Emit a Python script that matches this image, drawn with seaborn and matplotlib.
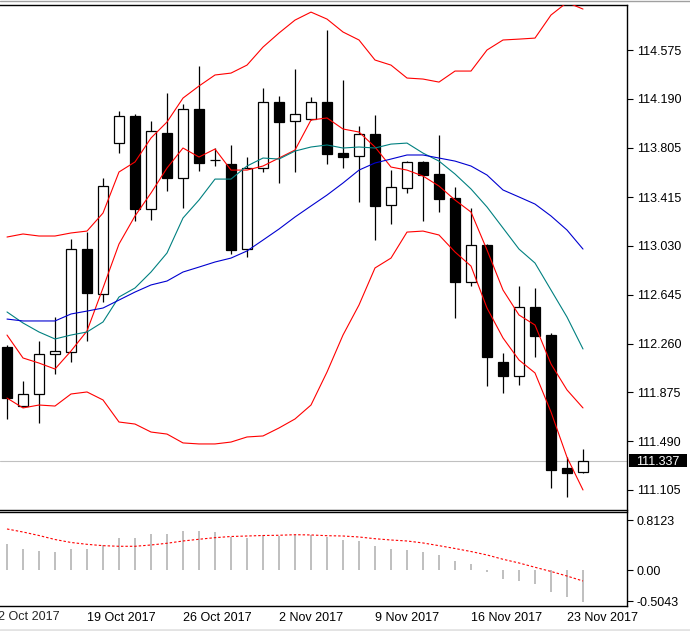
import matplotlib
matplotlib.use("Agg")
import matplotlib.pyplot as plt
import matplotlib.transforms as mtransforms
from matplotlib.patches import Rectangle
from matplotlib.lines import Line2D
import numpy as np
import pandas as pd
import seaborn as sns

# daily candles, oldest first (Oct 11 .. Nov 24 2017)
opens = [112.235, 111.765, 111.860, 112.175, 112.191, 113.003, 112.648, 113.839, 114.052, 113.323,
         113.920, 113.568, 114.109, 113.708, 113.676, 113.003, 113.642, 114.162, 114.012, 114.028,
         114.162, 113.762, 113.736, 113.912, 113.350, 113.484, 113.692, 113.597, 113.408, 112.748,
         113.035, 112.114, 112.006, 112.546, 112.327, 111.278, 111.244]
highs = [112.248, 111.964, 112.280, 112.469, 113.084, 113.142, 113.563, 114.094, 114.068, 114.015,
         114.236, 114.151, 114.449, 113.800, 113.826, 113.731, 114.275, 114.210, 114.425, 114.202,
         114.732, 114.338, 113.975, 114.062, 113.628, 113.699, 113.702, 113.904, 113.492, 113.329,
         113.045, 112.183, 112.716, 112.696, 112.343, 111.363, 111.428]
lows = [111.667, 111.760, 111.636, 112.022, 112.117, 112.282, 112.590, 113.765, 113.229, 113.236,
        113.465, 113.331, 113.623, 113.662, 112.966, 112.945, 113.615, 113.528, 113.615, 114.025,
        113.678, 113.647, 113.378, 113.079, 113.205, 113.449, 113.229, 113.300, 112.464, 112.716,
        111.927, 111.872, 111.935, 112.156, 111.123, 111.052, 111.240]
closes = [111.833, 111.860, 112.175, 112.199, 113.003, 112.661, 113.502, 114.052, 113.323, 113.934,
          113.568, 114.109, 113.686, 113.706, 113.000, 113.642, 114.162, 114.009, 114.068, 114.162,
          113.757, 113.733, 113.910, 113.347, 113.492, 113.689, 113.591, 113.402, 112.748, 113.035,
          112.156, 112.006, 112.546, 112.322, 111.265, 111.241, 111.337]

# indicators
bb_upper = [113.100, 113.124, 113.108, 113.108, 113.132, 113.147, 113.289, 113.613, 113.692, 113.881,
            114.007, 114.196, 114.291, 114.378, 114.393, 114.456, 114.598, 114.709, 114.811, 114.874,
            114.819, 114.717, 114.654, 114.496, 114.456, 114.354, 114.346, 114.322, 114.409, 114.409,
            114.575, 114.654, 114.661, 114.669, 114.851, 114.950, 114.898]
bb_lower = [111.830, 111.752, 111.775, 111.767, 111.862, 111.878, 111.815, 111.641, 111.625, 111.562,
            111.546, 111.476, 111.468, 111.468, 111.483, 111.523, 111.531, 111.594, 111.665, 111.775,
            112.035, 112.327, 112.564, 112.856, 112.934, 113.139, 113.147, 113.116, 112.982, 112.871,
            112.540, 112.304, 112.130, 112.028, 111.720, 111.363, 111.105]
ma_slow = [112.453, 112.438, 112.438, 112.438, 112.493, 112.516, 112.540, 112.603, 112.666, 112.722,
           112.753, 112.824, 112.863, 112.903, 112.934, 112.990, 113.076, 113.163, 113.258, 113.345,
           113.431, 113.526, 113.628, 113.684, 113.715, 113.747, 113.747, 113.723, 113.699, 113.660,
           113.589, 113.471, 113.416, 113.360, 113.266, 113.155, 113.005]
ma_mid = [112.509, 112.422, 112.351, 112.296, 112.327, 112.351, 112.430, 112.627, 112.698, 112.824,
          112.974, 113.250, 113.392, 113.557, 113.557, 113.660, 113.723, 113.715, 113.778, 113.810,
          113.826, 113.802, 113.810, 113.802, 113.833, 113.841, 113.762, 113.699, 113.597, 113.479,
          113.337, 113.171, 113.005, 112.895, 112.682, 112.469, 112.217]
ma_fast = [112.327, 112.146, 112.106, 112.059, 112.201, 112.359, 112.698, 113.045, 113.266, 113.447,
           113.644, 113.802, 113.731, 113.794, 113.628, 113.628, 113.660, 113.723, 113.786, 114.023,
           114.039, 113.952, 113.928, 113.810, 113.652, 113.628, 113.581, 113.502, 113.392, 113.297,
           112.998, 112.682, 112.485, 112.406, 112.099, 111.894, 111.752]

osc_hist = [0.427, 0.351, 0.318, 0.297, 0.351, 0.351, 0.406, 0.525, 0.525, 0.590,
            0.590, 0.643, 0.643, 0.622, 0.546, 0.525, 0.569, 0.557, 0.578, 0.569,
            0.546, 0.492, 0.481, 0.395, 0.351, 0.330, 0.297, 0.253, 0.156, 0.102,
            -0.028, -0.136, -0.169, -0.223, -0.353, -0.439, -0.515]
osc_signal = [0.671, 0.622, 0.565, 0.500, 0.452, 0.422, 0.400, 0.390, 0.390, 0.411,
              0.439, 0.476, 0.504, 0.530, 0.549, 0.557, 0.565, 0.569, 0.578, 0.574,
              0.562, 0.557, 0.541, 0.513, 0.492, 0.476, 0.444, 0.400, 0.354, 0.305,
              0.249, 0.179, 0.119, 0.049, -0.019, -0.093, -0.174]

price_ticks = [111.105, 111.490, 111.875, 112.260, 112.645, 113.030, 113.415, 113.805, 114.190, 114.575]
osc_ticks = [-0.5043, 0.0, 0.8123]
osc_tick_labels = ["-0.5043", "0.00", "0.8123"]
date_pos = [-1, 5, 11, 17, 23, 29, 35]
date_labels = ["12 Oct 2017", "19 Oct 2017", "26 Oct 2017", "2 Nov 2017",
               "9 Nov 2017", "16 Nov 2017", "23 Nov 2017"]
last_price = 111.337

df = pd.DataFrame({"open": opens, "high": highs, "low": lows, "close": closes,
                   "upper": bb_upper, "lower": bb_lower, "slow": ma_slow,
                   "mid": ma_mid, "fast": ma_fast, "hist": osc_hist, "signal": osc_signal})
df["i"] = np.arange(len(df))

sns.set_style("white")
plt.rcParams["font.family"] = ["Liberation Sans", "DejaVu Sans"]
plt.rcParams["font.size"] = 9

W, H = 690, 631
fig = plt.figure(figsize=(W / 100, H / 100), dpi=100)
fig.patch.set_facecolor("white")


def box(l, t, r, b):
    return [l / W, 1 - b / H, (r - l) / W, (b - t) / H]


ax = fig.add_axes(box(0, 5, 627, 509.5))
ax2 = fig.add_axes(box(0, 511.5, 627, 606))

# candles
up = df["close"] >= df["open"]
bottoms = np.minimum(df["open"], df["close"])
heights = (df["close"] - df["open"]).abs()
ax.vlines(df["i"], df["low"], df["high"], color="black", lw=0.9, zorder=2)
ax.bar(df["i"], heights, bottom=bottoms, width=0.62,
       color=np.where(up, "white", "black"), edgecolor="black", linewidth=0.9, zorder=3)

ax.axhline(last_price, color="#c0c0c0", lw=0.8, zorder=1)

sns.lineplot(data=df, x="i", y="upper", ax=ax, color="red", lw=0.8, zorder=4)
sns.lineplot(data=df, x="i", y="lower", ax=ax, color="red", lw=0.8, zorder=4)
sns.lineplot(data=df, x="i", y="fast", ax=ax, color="red", lw=0.8, zorder=4)
sns.lineplot(data=df, x="i", y="mid", ax=ax, color="#008080", lw=0.8, zorder=4)
sns.lineplot(data=df, x="i", y="slow", ax=ax, color="#0000d0", lw=0.8, zorder=4)

ax.set_xlim(-0.4375, 38.75)
ax.set_ylim(110.951, 114.930)
ax.set_xlabel("")
ax.set_ylabel("")
ax.set_xticks([])
ax.yaxis.tick_right()
ax.set_yticks(price_ticks)
ax.set_yticklabels([f"{t:.3f}" for t in price_ticks])
ax.tick_params(axis="y", direction="out", length=4, width=0.8, pad=3, labelsize=9, colors="black")
for side in ["top", "right", "bottom"]:
    ax.spines[side].set_color("black")
    ax.spines[side].set_linewidth(1.0)
ax.spines["left"].set_visible(False)

# current price tag
trans = mtransforms.blended_transform_factory(ax.transAxes, ax.transData)
ax.add_patch(Rectangle((1.0032, last_price - 0.052), 0.0925, 0.1, transform=trans,
                       facecolor="black", edgecolor="none", clip_on=False, zorder=5))
ax.text(1.0032 + 0.0925 / 2, last_price, f"{last_price:.3f}", transform=trans, color="white",
        ha="center", va="center_baseline", fontsize=9, zorder=6, clip_on=False)

# lower oscillator panel
ax2.bar(df["i"], df["hist"], width=0.17, color="#c0c0c0", linewidth=0, zorder=2)
sns.lineplot(data=df, x="i", y="signal", ax=ax2, color="red", lw=0.8,
             linestyle=(0, (2.2, 1.8)), zorder=3)
ax2.set_xlim(-0.4375, 38.75)
ax2.set_ylim(-0.580, 0.955)
ax2.set_xlabel("")
ax2.set_ylabel("")
ax2.yaxis.tick_right()
ax2.set_yticks(osc_ticks)
ax2.set_yticklabels(osc_tick_labels)
ax2.tick_params(axis="y", direction="out", length=4, width=0.8, pad=3, labelsize=9, colors="black")
ax2.set_xticks(date_pos[1:])
ax2.set_xticklabels(date_labels[1:], ha="left")
ax2.tick_params(axis="x", direction="out", length=3, width=0.8, pad=1.5, labelsize=9, colors="black")
ax2.annotate(date_labels[0], xy=(date_pos[0], 0), xycoords=("data", "axes fraction"),
             xytext=(0, -3.7), textcoords="offset points", ha="left", va="top",
             fontsize=9, annotation_clip=False)
for side in ["top", "right", "bottom"]:
    ax2.spines[side].set_color("black")
    ax2.spines[side].set_linewidth(1.0)
ax2.spines["left"].set_visible(False)

# window frame lines
fig.add_artist(Line2D([0, 1], [1 - 0.8 / H] * 2, color="#a0a0a0", lw=1.0, transform=fig.transFigure))
fig.add_artist(Line2D([0, 1], [1.5 / H] * 2, color="#e3e3e3", lw=2.0, transform=fig.transFigure))

fig.savefig("out.png", dpi=100)
plt.close(fig)
